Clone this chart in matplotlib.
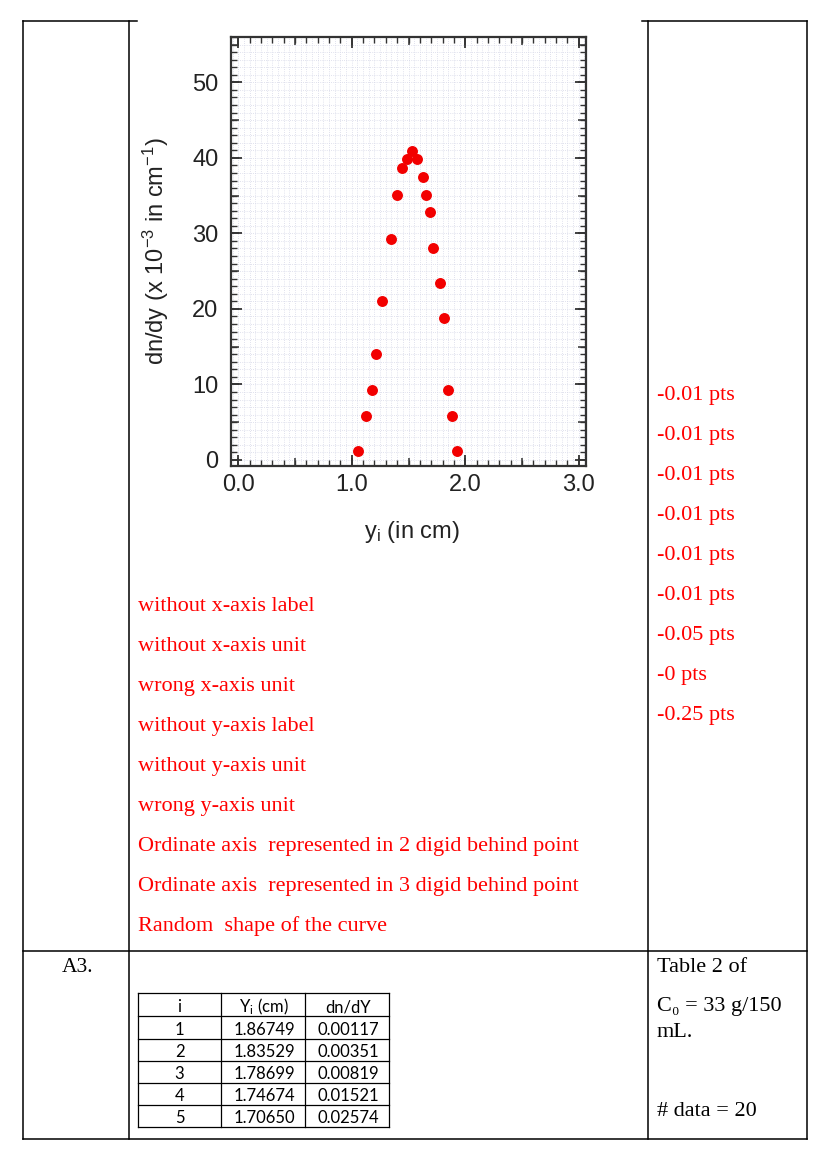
import matplotlib
matplotlib.use("Agg")
import matplotlib.pyplot as plt
from matplotlib.lines import Line2D
from matplotlib.ticker import MultipleLocator, FormatStrFormatter

# data (y_i in cm, dn/dy in 1e-3 cm^-1)
y_pos = [1.059, 1.129, 1.182, 1.217, 1.267, 1.342, 1.396, 1.446, 1.487, 1.535,
         1.579, 1.626, 1.655, 1.687, 1.718, 1.775, 1.816, 1.852, 1.884, 1.925]
dndy = [1.2, 5.8, 9.3, 14.0, 21.1, 29.2, 35.1, 38.6, 39.8, 40.9,
        39.8, 37.4, 35.1, 32.8, 28.0, 23.4, 18.8, 9.3, 5.8, 1.2]

# grading notes
remarks = ["without x-axis label", "without x-axis unit", "wrong x-axis unit",
           "without y-axis label", "without y-axis unit", "wrong y-axis unit",
           "Ordinate axis  represented in 2 digid behind point",
           "Ordinate axis  represented in 3 digid behind point",
           "Random  shape of the curve"]
penalties = ["-0.01 pts", "-0.01 pts", "-0.01 pts", "-0.01 pts", "-0.01 pts",
             "-0.01 pts", "-0.05 pts", "-0 pts", "-0.25 pts"]

# small table under A3
table_i = ["1", "2", "3", "4", "5"]
table_y = ["1.86749", "1.83529", "1.78699", "1.74674", "1.70650"]
table_dndy = ["0.00117", "0.00351", "0.00819", "0.01521", "0.02574"]

W, H = 827, 1154
plt.rcParams['mathtext.default'] = 'regular'

fig = plt.figure(figsize=(W / 100, H / 100), dpi=100)
fig.patch.set_facecolor('white')


def fx(x):
    return x / W


def fy(y):
    return 1 - y / H


def hline(x0, x1, y, lw=1.1):
    fig.add_artist(Line2D([fx(x0), fx(x1)], [fy(y), fy(y)], transform=fig.transFigure,
                          color='black', lw=lw))


def vline(x, y0, y1, lw=1.1):
    fig.add_artist(Line2D([fx(x), fx(x)], [fy(y0), fy(y1)], transform=fig.transFigure,
                          color='black', lw=lw))


serif = ['Liberation Serif', 'DejaVu Serif']
sans = ['Liberation Sans', 'DejaVu Sans']

# ---- document cell borders
hline(23, 137, 21)
hline(642, 807, 21)
hline(23, 807, 951)
hline(23, 807, 1138.5)
for xv in [23, 128.5, 647.5, 807]:
    vline(xv, 21, 1138.5)

# ---- the plot
rect = [fx(231), fy(466), (586 - 231) / W, (466 - 37) / H]
xlim = (-0.065, 3.065)
ylim = (-0.8, 56.0)

axg = fig.add_axes(rect)
axg.set_xlim(*xlim)
axg.set_ylim(*ylim)
axg.xaxis.set_major_locator(MultipleLocator(0.05))
axg.yaxis.set_major_locator(MultipleLocator(1))
axg.grid(True, color='#d6d8e8', ls=(0, (1, 1.6)), lw=0.6)
axg.tick_params(length=0, labelbottom=False, labelleft=False)
for s in axg.spines.values():
    s.set_visible(False)

ax = fig.add_axes(rect)
ax.patch.set_visible(False)
ax.set_xlim(*xlim)
ax.set_ylim(*ylim)
ax.scatter(y_pos, dndy, s=62, color='#f20000', zorder=5, linewidths=0)
ax.xaxis.set_major_locator(MultipleLocator(1))
ax.xaxis.set_minor_locator(MultipleLocator(0.1))
ax.yaxis.set_major_locator(MultipleLocator(10))
ax.yaxis.set_minor_locator(MultipleLocator(1))
ax.xaxis.set_major_formatter(FormatStrFormatter('%.1f'))
ax.tick_params(which='both', direction='in', top=True, right=True, color='#333333')
ax.tick_params(which='major', length=8, width=1.3)
ax.tick_params(which='minor', length=4, width=1.0)
ax.tick_params(axis='x', pad=6, labelsize=17, labelcolor='#222222')
ax.tick_params(axis='y', pad=9, labelsize=17, labelcolor='#222222')
for t in ax.get_xticklabels() + ax.get_yticklabels():
    t.set_family(sans)
for s in ax.spines.values():
    s.set_linewidth(1.6)
    s.set_color('#333333')
ax.set_xlabel('y$_i$ (in cm)', fontsize=17, family=sans, color='#222222')
ax.xaxis.set_label_coords(0.51, -0.124)
ax.set_ylabel('dn/dy (x 10$^{-3}$ in cm$^{-1}$)', fontsize=17, family=sans,
              color='#222222')
ax.yaxis.set_label_coords(-0.17, 0.5)

# medium ticks at 0.5 / 5
axm = fig.add_axes(rect)
axm.patch.set_visible(False)
axm.set_xlim(*xlim)
axm.set_ylim(*ylim)
axm.xaxis.set_major_locator(MultipleLocator(0.5))
axm.yaxis.set_major_locator(MultipleLocator(5))
axm.tick_params(direction='in', top=True, right=True, length=6, width=1.1,
                color='#333333', labelbottom=False, labelleft=False)
for s in axm.spines.values():
    s.set_visible(False)

# ---- red remarks
red = '#ff0000'
for k, txt in enumerate(remarks):
    fig.text(fx(138), fy(611 + 40 * k), txt, color=red, fontsize=16,
             family=serif, va='baseline', ha='left')
for k, txt in enumerate(penalties):
    fig.text(fx(657), fy(400 + 40 * k), txt, color=red, fontsize=16,
             family=serif, va='baseline', ha='left')

# ---- lower row
fig.text(fx(62), fy(971.5), 'A3.', fontsize=15.5, family=serif, va='baseline')
fig.text(fx(657), fy(971.5), 'Table 2 of', fontsize=16, family=serif, va='baseline')
fig.text(fx(657), fy(1011.5), 'C\u2080 = 33 g/150', fontsize=16, family=serif,
         va='baseline')
fig.text(fx(657), fy(1037), 'mL.', fontsize=16, family=serif, va='baseline')
fig.text(fx(657), fy(1116.5), '# data = 20', fontsize=16, family=serif,
         va='baseline')

# table
tx = [138, 221, 305, 389]
ty = [993, 1016, 1039, 1061, 1083, 1105, 1127]
for yv in ty:
    hline(tx[0], tx[-1], yv, lw=0.9)
for xv in tx:
    vline(xv, ty[0], ty[-1], lw=0.9)
col_c = [(tx[j] + tx[j + 1]) / 2 for j in range(3)]
tfont = ['Lato', 'DejaVu Sans']
headers = ['i', 'Y$_i$ (cm)', 'dn/dY']
for j, h in enumerate(headers):
    fig.text(fx(col_c[j] + (1 if j else 0)), fy(ty[1] - 3.5), h, fontsize=12,
             family=tfont, ha='center', va='baseline')
for r in range(len(table_i)):
    base = fy(ty[r + 2] - 4)
    for j, v in enumerate([table_i[r], table_y[r], table_dndy[r]]):
        fig.text(fx(col_c[j] + (1 if j else 0)), base, v, fontsize=12,
                 family=tfont, ha='center', va='baseline')

fig.savefig('out.png', dpi=100)
